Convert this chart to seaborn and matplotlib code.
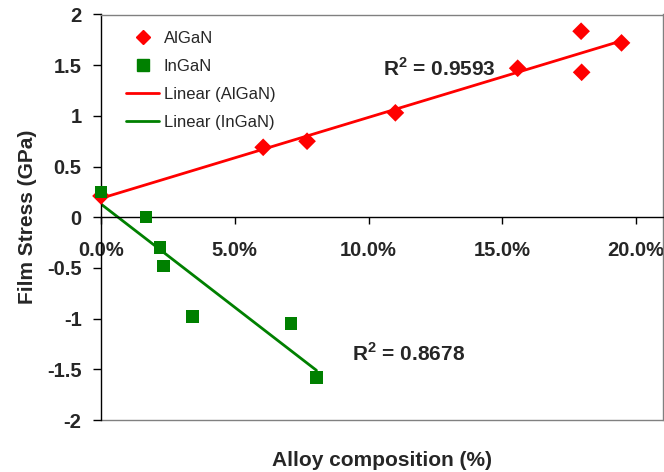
import numpy as np
import pandas as pd
import matplotlib
matplotlib.use("Agg")
import matplotlib.pyplot as plt
from matplotlib.lines import Line2D
from matplotlib.ticker import PercentFormatter, FuncFormatter
import seaborn as sns

# ---- data ----
algan_x = [0.0, 0.0606, 0.0770, 0.1100, 0.1557, 0.1794, 0.1796, 0.1945]
algan_y = [0.21, 0.69, 0.75, 1.03, 1.47, 1.835, 1.43, 1.72]
ingan_x = [0.0, 0.0168, 0.0221, 0.0233, 0.0342, 0.0710, 0.0805]
ingan_y = [0.25, 0.0, -0.30, -0.48, -0.98, -1.05, -1.58]
series_names = ["AlGaN", "InGaN"]
trend_labels = ["Linear (AlGaN)", "Linear (InGaN)"]
r2_texts = ["0.9593", "0.8678"]
x_ticks = [0.0, 0.05, 0.10, 0.15, 0.20]
y_ticks = [-2, -1.5, -1, -0.5, 0, 0.5, 1, 1.5, 2]

sns.set_style("white")
plt.rcParams["font.family"] = ["Liberation Sans", "DejaVu Sans"]
plt.rcParams["axes.unicode_minus"] = False
plt.rcParams["mathtext.fontset"] = "custom"
plt.rcParams["mathtext.rm"] = "Liberation Sans"
plt.rcParams["mathtext.bf"] = "Liberation Sans:bold"

RED = "#FF0000"
GREEN = "#008000"
GRAY = "#808080"

df = pd.DataFrame({
    "x": algan_x + ingan_x,
    "y": algan_y + ingan_y,
    "alloy": [series_names[0]] * len(algan_x) + [series_names[1]] * len(ingan_x),
})

fig = plt.figure(figsize=(6.64, 4.72), dpi=100)
W, H = 664, 472
L, R, T, B = 101, 663, 14.5, 420
ax = fig.add_axes([L / W, 1 - B / H, (R - L) / W, (B - T) / H])

# trendlines (least squares fit, data range)
sns.regplot(x=algan_x, y=algan_y, ax=ax, scatter=False, ci=None, truncate=True,
            line_kws=dict(color=RED, lw=2, zorder=2))
sns.regplot(x=ingan_x, y=ingan_y, ax=ax, scatter=False, ci=None, truncate=True,
            line_kws=dict(color=GREEN, lw=2, zorder=2))

sns.scatterplot(data=df, x="x", y="y", hue="alloy", style="alloy",
                palette={series_names[0]: RED, series_names[1]: GREEN},
                markers={series_names[0]: "D", series_names[1]: "s"},
                s=81, linewidth=0, ax=ax, legend=False, clip_on=False, zorder=3)

ax.set_xlim(0, 0.21)
ax.set_ylim(-2, 2)

# spines
ax.spines["bottom"].set_position(("data", 0))
for side in ["left", "bottom"]:
    ax.spines[side].set_color("black")
    ax.spines[side].set_linewidth(1)
for side in ["top", "right"]:
    ax.spines[side].set_color(GRAY)
    ax.spines[side].set_linewidth(1)
ax.axhline(-2, color=GRAY, lw=1, clip_on=False, zorder=1)

ax.set_xticks(x_ticks)
ax.xaxis.set_major_formatter(PercentFormatter(xmax=1, decimals=1))
ax.set_yticks(y_ticks)
ax.yaxis.set_major_formatter(FuncFormatter(lambda v, p: f"{v:g}"))
ax.tick_params(axis="x", direction="out", length=5, width=1, labelsize=14.5,
               pad=12, bottom=True, color="black")
ax.tick_params(axis="y", direction="out", length=6, width=1, labelsize=14.5,
               pad=8, left=True, color="black")
for lbl in ax.get_xticklabels() + ax.get_yticklabels():
    lbl.set_fontweight("bold")

ax.set_xlabel("Alloy composition (%)", fontsize=15, fontweight="bold", va="center")
ax.set_ylabel("Film Stress (GPa)", fontsize=15, fontweight="bold", va="center")
ax.xaxis.set_label_coords(0.5, -0.101)
ax.yaxis.set_label_coords(-0.13, 0.5)

# R^2 annotations
ax.text(0.1052, 1.47, r"R$^{\mathbf{2}}$ = " + r2_texts[0], fontsize=15,
        fontweight="bold", ha="left", va="center")
ax.text(0.0939, -1.34, r"R$^{\mathbf{2}}$ = " + r2_texts[1], fontsize=15,
        fontweight="bold", ha="left", va="center")

handles = [
    Line2D([], [], marker="D", color=RED, linestyle="none", markersize=7.5),
    Line2D([], [], marker="s", color=GREEN, linestyle="none", markersize=8),
    Line2D([], [], color=RED, lw=2),
    Line2D([], [], color=GREEN, lw=2),
]
labels = series_names + trend_labels
ax.legend(handles, labels, loc="upper left", bbox_to_anchor=(0.0445, 0.959),
          frameon=False, fontsize=12, handlelength=2.0, handletextpad=0.25,
          labelspacing=0.78, borderpad=0, borderaxespad=0)

fig.savefig("out.png", dpi=100, facecolor="white")
